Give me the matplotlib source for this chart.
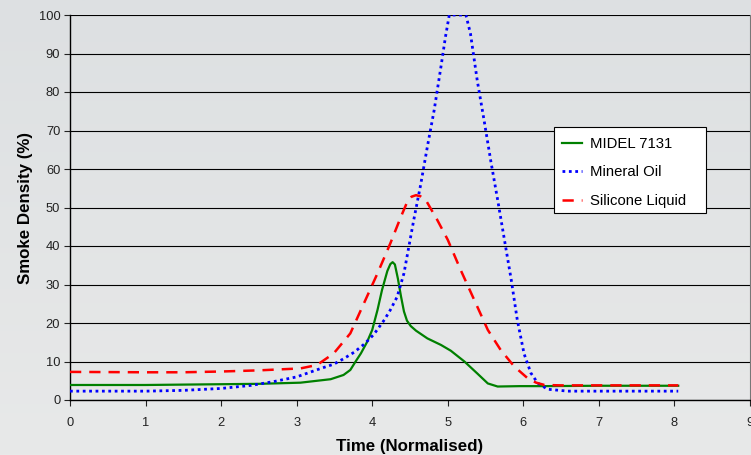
import matplotlib
matplotlib.use("Agg")
import matplotlib.pyplot as plt
from matplotlib.patches import Rectangle
import numpy as np

plt.rcParams['font.family'] = ['Liberation Sans', 'DejaVu Sans']

# ---- data ----
midel_x = [0, 1, 2, 2.5, 3.05, 3.45, 3.62, 3.71, 3.78, 3.85, 3.93, 4.0, 4.07, 4.13, 4.2, 4.24, 4.27,
           4.30, 4.34, 4.38, 4.42, 4.46, 4.51, 4.58, 4.73, 4.91, 5.04, 5.22, 5.39, 5.53, 5.66, 5.95,
           6.26, 7.0, 8.05]
midel_y = [3.9, 3.9, 4.1, 4.2, 4.5, 5.4, 6.5, 7.8, 10.0, 12.1, 15.0, 18.2, 23.4, 28.6, 33.5, 35.3, 35.8,
           35.2, 31.5, 27.0, 23.0, 20.6, 19.2, 18.0, 16.0, 14.3, 12.8, 10.0, 6.9, 4.3, 3.5, 3.6,
           3.6, 3.7, 3.7]

oil_x = [0, 1, 1.5, 2.0, 2.4, 2.7, 3.0, 3.32, 3.49, 3.62, 3.76, 3.9, 4.02, 4.16, 4.24, 4.33, 4.42, 4.55,
         4.64, 4.73, 4.82, 4.91, 4.97, 5.02, 5.24, 5.3, 5.39, 5.48, 5.57, 5.66, 5.75, 5.84, 5.92,
         6.01, 6.1, 6.19, 6.32, 6.59, 7.0, 8.05]
oil_y = [2.3, 2.3, 2.5, 3.0, 3.8, 4.8, 6.0, 8.2, 9.3, 10.7, 12.4, 14.6, 17.0, 20.8, 23.4, 26.8, 32.9, 46.8,
         55.8, 65.8, 75.3, 86.6, 94.4, 100, 100, 95.2, 83.0, 72.7, 62.0, 52.0, 41.6, 31.2, 20.8,
         12.0, 7.0, 4.4, 2.8, 2.3, 2.3, 2.3]

sil_x = [0, 1, 1.5, 2.0, 2.5, 3.05, 3.27, 3.49, 3.71, 3.89, 4.07, 4.24, 4.38, 4.46, 4.52, 4.58, 4.64,
         4.71, 4.86, 5.0, 5.17, 5.35, 5.53, 5.7, 5.88, 6.06, 6.17, 6.28, 6.5, 8.05]
sil_y = [7.3, 7.2, 7.2, 7.4, 7.7, 8.2, 9.1, 12.1, 17.3, 25.1, 32.9, 40.7, 47.6, 51.3, 52.8, 53.2, 52.9,
         51.9, 46.8, 41.6, 33.8, 26.0, 18.2, 13.0, 8.7, 5.6, 4.5, 3.9, 3.8, 3.8]

labels = ["MIDEL 7131", "Mineral Oil", "Silicone Liquid"]
x_ticks = list(range(0, 10))
y_ticks = list(range(0, 101, 10))

# ---- figure ----
fig = plt.figure(figsize=(7.51, 4.55), dpi=100)
top_c = np.array([221, 224, 226]) / 255
bot_c = np.array([232, 233, 233]) / 255
fig.patch.set_facecolor((top_c + bot_c) / 2)
bg = fig.add_axes([0, 0, 1, 1], zorder=-10)
grad = np.linspace(0, 1, 256)[:, None, None]
img = top_c[None, None, :] * (1 - grad) + bot_c[None, None, :] * grad
bg.imshow(img, aspect='auto', extent=[0, 1, 0, 1])
bg.set_axis_off()

ax = fig.add_axes([70 / 751, 55 / 455, 680 / 751, 385 / 455])
ax.patch.set_alpha(0)

ax.plot(midel_x, midel_y, color='#008000', lw=1.6, solid_joinstyle='round', label=labels[0], zorder=3)
ax.plot(oil_x, oil_y, color='#0000ff', lw=2.0, linestyle=(0, (1, 1.3)), label=labels[1], zorder=3)
ax.plot(sil_x, sil_y, color='#ff0000', lw=1.8, linestyle=(0, (4.5, 3.2)), label=labels[2], zorder=3)

ax.set_xlim(0, 9)
ax.set_ylim(0, 100)
ax.set_xticks(x_ticks)
ax.set_yticks(y_ticks)
ax.tick_params(axis='both', labelsize=9.3, colors='#222222', length=4, width=0.8, direction='out')
ax.tick_params(axis='x', pad=8)
ax.tick_params(axis='y', pad=3)
ax.yaxis.grid(True, color='black', lw=0.8)
ax.set_axisbelow(True)
for s in ['left', 'bottom']:
    ax.spines[s].set_color('black')
    ax.spines[s].set_linewidth(1.0)
ax.spines['top'].set_visible(False)
ax.spines['right'].set_color('#777777')
ax.spines['right'].set_linewidth(0.8)

ax.set_xlabel("Time (Normalised)", fontsize=12.2, fontweight='bold', labelpad=7.5)
ax.set_ylabel("Smoke Density (%)", fontsize=12.2, fontweight='bold', labelpad=4)

# legend frame (drawn separately to match the asymmetric padding)
frame = Rectangle((0.712, 0.485), 0.936 - 0.712, 0.708 - 0.485, transform=ax.transAxes,
                  facecolor='white', edgecolor='black', lw=0.8, zorder=4)
ax.add_patch(frame)
leg = ax.legend(loc='upper left', bbox_to_anchor=(0.723, 0.683), borderaxespad=0, borderpad=0,
                fontsize=10.7, frameon=False, handlelength=1.35,
                handletextpad=0.55, labelspacing=0.97)
leg.set_zorder(5)

fig.savefig("out.png", dpi=100)
